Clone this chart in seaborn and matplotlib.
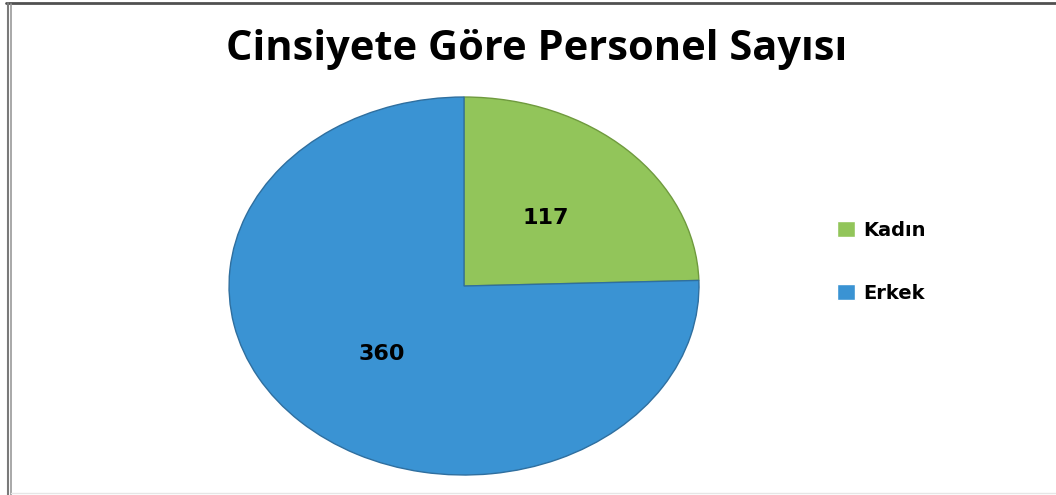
import matplotlib
matplotlib.use("Agg")
import matplotlib.pyplot as plt
import seaborn as sns
from matplotlib.patches import Patch
from matplotlib.lines import Line2D

categories = ["Kadın", "Erkek"]
values = [117, 360]
colors = ["#92C55A", "#3A93D3"]
title = "Cinsiyete Göre Personel Sayısı"

sns.set_theme(style="white")
plt.rcParams['font.family'] = ['Open Sans', 'DejaVu Sans']

W, H = 1056, 495
fig = plt.figure(figsize=(10.56, 4.95), dpi=100)
fig.patch.set_facecolor("white")

ax = fig.add_axes([0.2169, 0.0404, 0.445, 0.7636])
total = sum(values)
wedges, texts, autotexts = ax.pie(
    values, colors=colors, startangle=90, counterclock=False,
    autopct=lambda p: f"{round(p * total / 100):d}", pctdistance=0.5,
    wedgeprops=dict(edgecolor="#2f6f9f", linewidth=1.0),
    textprops=dict(fontsize=16, fontweight="bold", color="black", family="DejaVu Sans"),
)
wedges[0].set_edgecolor("#6f9a3e")
ax.set_aspect("auto")
ax.set_xlim(-1, 1)
ax.set_ylim(-1, 1)
ax.axis("off")

fig.text(0.5085, 0.899, title, ha="center", va="center", fontsize=30,
         fontweight="bold", color="black")

handles = [Patch(facecolor=c, edgecolor="white") for c in colors]
leg = fig.legend(handles, categories, loc="center left", bbox_to_anchor=(0.7765, 0.471),
                 frameon=False, handlelength=0.9, handleheight=0.9,
                 labelspacing=2.25, handletextpad=0.45,
                 prop=dict(size=14, weight="bold", family="DejaVu Sans"))
for t in leg.get_texts():
    t.set_color("black")

# outer frame (top and left, faint bottom)
def px_line(x0, y0, x1, y1, color, lw):
    fig.add_artist(Line2D([x0 / W, x1 / W], [1 - y0 / H, 1 - y1 / H],
                          transform=fig.transFigure, color=color, linewidth=lw))

px_line(6, 3, W, 3, "#505050", 2.0)
px_line(7.5, 3, 7.5, H, "#7a7a7a", 1.5)
px_line(10.5, 4, 10.5, H, "#9a9a9a", 1.2)
px_line(11, 493, W, 493, "#e6e6e6", 1.0)

fig.savefig("out.png", dpi=100, facecolor="white")
